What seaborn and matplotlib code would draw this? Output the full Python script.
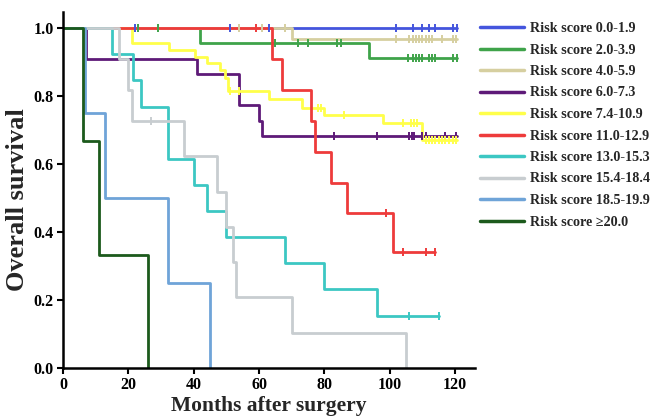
import numpy as np
import pandas as pd
import matplotlib
matplotlib.use("Agg")
import matplotlib.pyplot as plt
from matplotlib.lines import Line2D
import seaborn as sns

# ---- data ----
groups = ["Risk score 0.0-1.9", "Risk score 2.0-3.9", "Risk score 4.0-5.9",
          "Risk score 6.0-7.3", "Risk score 7.4-10.9", "Risk score 11.0-12.9",
          "Risk score 13.0-15.3", "Risk score 15.4-18.4", "Risk score 18.5-19.9",
          "Risk score \u226520.0"]
colors = ["#4455DD", "#3FA34A", "#D6CFA0", "#5E1A78", "#FFFF4A",
          "#EE3B3B", "#3CC7C3", "#C8CDD0", "#6FA4D8", "#1C5A1C"]

t_g1 = [0, 120.5]
s_g1 = [1.0, 1.0]
c_g1 = [22, 51, 63, 102, 107, 110, 112, 114, 119.3, 120.5]

t_g2 = [0, 42, 93.7, 120.5]
s_g2 = [1.0, 0.957, 0.913, 0.913]
c_g2 = [23, 29, 65, 72, 75, 84, 85, 105.6, 107, 108, 109, 110, 112, 113, 114, 119.3, 120.5]

t_g3 = [0, 70, 120.5]
s_g3 = [1.0, 0.967, 0.967]
c_g3 = [54, 61, 68, 102, 106, 107, 108, 109, 110, 111, 112, 113, 116, 119.3, 120.3]

t_g4 = [0, 7, 41, 54, 60, 61, 120.5]
s_g4 = [1.0, 0.909, 0.864, 0.773, 0.727, 0.682, 0.682]
c_g4 = [83, 96, 106, 106.7, 107.4, 110, 111, 117, 120.3]

t_g5 = [0, 21, 32.5, 40.5, 44, 48, 49.5, 50.5, 63, 73, 80, 98, 110, 120.5]
s_g5 = [1.0, 0.956, 0.934, 0.915, 0.896, 0.876, 0.853, 0.815, 0.79, 0.766,
        0.744, 0.72, 0.672, 0.672]
c_g5 = [51, 54, 78, 79, 86, 104, 106.5, 107.5, 108.5, 111, 112, 113, 114,
        115, 116, 117, 118, 119.5, 120.3]

t_g6 = [0, 64, 67, 76, 77, 82, 87, 101, 114]
s_g6 = [1.0, 0.909, 0.818, 0.727, 0.636, 0.545, 0.455, 0.341, 0.341]
c_g6 = [59, 99, 104, 111, 114]

t_g7 = [0, 15, 21.5, 24, 32, 40, 44, 50, 68, 80, 96, 115]
s_g7 = [1.0, 0.923, 0.846, 0.769, 0.615, 0.538, 0.462, 0.385, 0.308, 0.231, 0.154, 0.154]
c_g7 = [106, 115]

t_g8 = [0, 17, 20, 21, 37, 47, 50, 52, 53, 70, 105]
s_g8 = [1.0, 0.909, 0.818, 0.727, 0.623, 0.519, 0.416, 0.312, 0.208, 0.104, 0.0]
c_g8 = [27]

t_g9 = [0, 6.8, 13, 32, 45]
s_g9 = [1.0, 0.75, 0.5, 0.25, 0.0]
c_g9 = []

t_g10 = [0, 6.2, 11, 26]
s_g10 = [1.0, 0.667, 0.333, 0.0]
c_g10 = []

xticks = [0, 20, 40, 60, 80, 100, 120]
yticks = [0.0, 0.2, 0.4, 0.6, 0.8, 1.0]

curves = [(t_g1, s_g1, c_g1), (t_g2, s_g2, c_g2), (t_g3, s_g3, c_g3),
          (t_g4, s_g4, c_g4), (t_g5, s_g5, c_g5), (t_g6, s_g6, c_g6),
          (t_g7, s_g7, c_g7), (t_g8, s_g8, c_g8), (t_g9, s_g9, c_g9),
          (t_g10, s_g10, c_g10)]

rows, crow = [], []
for g, (t, s, c) in zip(groups, curves):
    for ti, si in zip(t, s):
        rows.append((g, ti, si))
    ta = np.array(t)
    for ci in c:
        idx = np.searchsorted(ta, ci, side="right") - 1
        crow.append((g, ci, s[idx]))
df = pd.DataFrame(rows, columns=["group", "time", "surv"])
dfc = pd.DataFrame(crow, columns=["group", "time", "surv"])

# ---- style ----
sns.set_style("ticks")
plt.rcParams["font.family"] = ["Liberation Serif", "DejaVu Serif"]
plt.rcParams["font.weight"] = "bold"
plt.rcParams["axes.labelweight"] = "bold"

fig = plt.figure(figsize=(6.52, 4.17), dpi=100)
ax = fig.add_axes([63 / 652, 49 / 417, 412 / 652, 356 / 417])

pal = dict(zip(groups, colors))
sns.lineplot(data=df, x="time", y="surv", hue="group", hue_order=groups,
             palette=pal, estimator=None, drawstyle="steps-post",
             linewidth=2.0, legend=False, ax=ax)
for g in groups:
    sub = dfc[dfc.group == g]
    if len(sub):
        sns.scatterplot(data=sub, x="time", y="surv", color=pal[g], marker="|",
                        s=40, linewidth=1.4, legend=False, ax=ax, zorder=3)

ax.set_xlim(0, 126.1)
ax.set_ylim(0, 1.047)
ax.set_xticks(xticks)
ax.set_yticks(yticks)
ax.set_yticklabels([f"{v:.1f}" for v in yticks])
ax.tick_params(axis="both", labelsize=11.5, length=4.5, width=1.5, color="black",
               labelcolor="black", pad=2)
for sp in ["left", "bottom"]:
    ax.spines[sp].set_linewidth(1.8)
    ax.spines[sp].set_color("black")
sns.despine(ax=ax)

ax.set_xlabel("Months after surgery", fontsize=15.5, fontweight="bold", labelpad=2)
ax.set_ylabel("Overall survival", fontsize=19, fontweight="bold")
ax.yaxis.set_label_coords(-0.083, 0.472)

handles = [Line2D([], [], color=c, lw=2.5) for c in colors]
leg = fig.legend(handles, groups, loc="upper left", bbox_to_anchor=(480 / 652, 1 - 22 / 417),
                 frameon=False, borderpad=0, borderaxespad=0, handlelength=3.1,
                 handletextpad=0.4, labelspacing=0.6,
                 prop={"family": ["Liberation Serif", "DejaVu Serif"], "weight": "bold", "size": 10.2})

fig.savefig("out.png", dpi=100)
